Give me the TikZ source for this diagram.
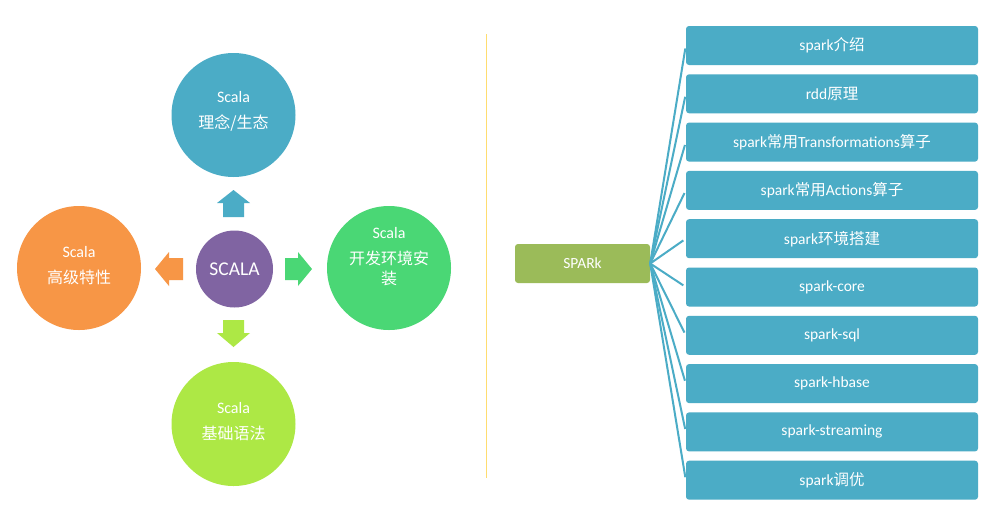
\documentclass[tikz,border=0pt]{standalone}
\usepackage{fontspec}
\setmainfont{Carlito}
\newfontfamily\cjk{Noto Sans CJK SC}
\definecolor{cblue}{HTML}{4BACC6}
\definecolor{corange}{HTML}{F79646}
\definecolor{cgreen}{HTML}{4AD775}
\definecolor{clime}{HTML}{ADE845}
\definecolor{cpurple}{HTML}{8064A2}
\definecolor{cspark}{HTML}{9BBB59}
\definecolor{cdiv}{HTML}{FFDD70}
\begin{document}
\begin{tikzpicture}[x=1pt,y=-1pt,
  circ/.style={circle,draw=none,minimum size=124pt,inner sep=0pt},
  ctext/.style={text=white,align=center,font=\fontsize{16}{20}\selectfont},
  item/.style={rectangle,rounded corners=3pt,fill=cblue,draw=none,minimum width=292pt,minimum height=39pt,inner sep=0pt,text=white,font=\fontsize{15.5}{18}\selectfont},
  link/.style={draw=cblue,line width=2pt,shorten >=3pt}]
\useasboundingbox (0,0) rectangle (1000,517);
\fill[white] (0,0) rectangle (1000,517);
% circles
\node[circ,fill=cblue] (ctop) at (233.5,115) {};
\node[ctext] (ttop) at (233.5,111) {Scala\\[6pt]{\cjk 理念/生态}};
\node[circ,fill=corange] (cleft) at (79,268) {};
\node[ctext] (tleft) at (79,266) {Scala\\[6pt]{\cjk 高级特性}};
\node[circ,fill=cgreen] (cright) at (389,268) {};
\node[ctext] (tright) at (389,257) {Scala\\[6pt]{\cjk 开发环境安}\\{\cjk 装}};
\node[circ,fill=clime] (cbot) at (233.5,424) {};
\node[ctext] (tbot) at (233.5,422) {Scala\\[6pt]{\cjk 基础语法}};
\node[circle,fill=cpurple,minimum size=77pt,inner sep=0pt,text=white,font=\fontsize{19.5}{22}\selectfont] (center) at (234.5,269) {SCALA};
% block arrows
\fill[cblue] (223,217) -- (223,203) -- (217,203) -- (233.5,190) -- (250,203) -- (244,203) -- (244,217) -- cycle;
\fill[clime] (223,320) -- (223,333) -- (217,333) -- (233.5,347) -- (250,333) -- (244,333) -- (244,320) -- cycle;
\fill[corange] (183,258) -- (169,258) -- (169,252) -- (155,269) -- (169,286) -- (169,280) -- (183,280) -- cycle;
\fill[cgreen] (285,258) -- (298,258) -- (298,252) -- (312,269) -- (298,286) -- (298,280) -- (285,280) -- cycle;
% divider
\draw[cdiv,line width=1pt] (486,34) -- (486,478);
% spark
\node[rectangle,rounded corners=3pt,fill=cspark,minimum width=135pt,minimum height=39pt,inner sep=0pt,text=white,font=\fontsize{15.5}{18}\selectfont] (spark) at (582.5,263.5) {SPARk};
\node[item] (b0) at (832,45.5) {spark{\cjk 介绍}};
\node[item] (b1) at (832,93.8) {rdd{\cjk 原理}};
\node[item] (b2) at (832,142.1) {spark{\cjk 常用}Transformations{\cjk 算子}};
\node[item] (b3) at (832,190.4) {spark{\cjk 常用}Actions{\cjk 算子}};
\node[item] (b4) at (832,238.7) {spark{\cjk 环境搭建}};
\node[item] (b5) at (832,287) {spark-core};
\node[item] (b6) at (832,335.3) {spark-sql};
\node[item] (b7) at (832,383.6) {spark-hbase};
\node[item] (b8) at (832,431.9) {spark-streaming};
\node[item] (b9) at (832,480.2) {spark{\cjk 调优}};
\foreach \i in {0,...,9} \draw[link] (spark.east) -- (b\i.west);
\end{tikzpicture}
\end{document}
